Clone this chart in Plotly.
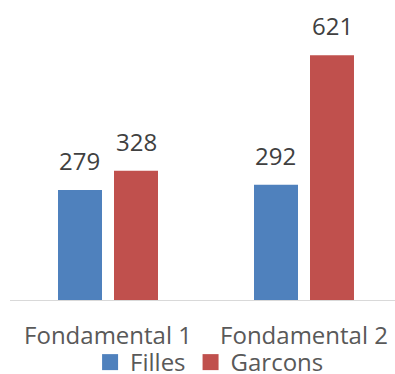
import plotly.graph_objects as go

categories = ["Fondamental 1", "Fondamental 2"]
filles = [279, 292]
garcons = [328, 621]
series_names = ["Filles", "Garcons"]
colors = ["#4f81bd", "#c0504d"]

FONT = "Open Sans"
fig = go.Figure()

for name, vals, col in zip(series_names, [filles, garcons], colors):
    fig.add_trace(go.Bar(x=categories, y=vals, name=name, marker_color=col,
                         marker_line_width=0, showlegend=False))
    # legend entry with a larger square swatch
    fig.add_trace(go.Scatter(x=[None], y=[None], mode="markers", name=name,
                             marker=dict(symbol="square", size=16, color=col)))

# value labels above each bar (category index +/- half a bar slot)
offsets = [-0.1429, 0.1429]
for off, vals in zip(offsets, [filles, garcons]):
    for i, v in enumerate(vals):
        fig.add_annotation(x=i + off, y=v, xref="x", yref="y", text=str(v),
                           showarrow=False, yanchor="bottom", yshift=11,
                           font=dict(family=FONT, size=24, color="#404040"))

fig.update_layout(
    width=395, height=374,
    margin=dict(l=10, r=0, t=24, b=74, autoexpand=False),
    plot_bgcolor="white", paper_bgcolor="white",
    barmode="group", bargap=0.4286, bargroupgap=0.2143,
    font=dict(family=FONT, size=24, color="#595959"),
    legend=dict(orientation="h", x=0.208, xanchor="left", y=-0.145, yanchor="top",
                font=dict(family=FONT, size=24, color="#595959"),
                itemsizing="trace", tracegroupgap=0, bgcolor="rgba(0,0,0,0)"),
    showlegend=True,
)
fig.update_xaxes(range=[-0.5, 1.4643], showline=True, linecolor="#d9d9d9",
                 linewidth=1, ticks="", showgrid=False, ticklabelstandoff=14,
                 tickfont=dict(family=FONT, size=24, color="#595959"))
fig.update_yaxes(range=[0, 700], visible=False, showgrid=False)

fig.write_html("out.html")
